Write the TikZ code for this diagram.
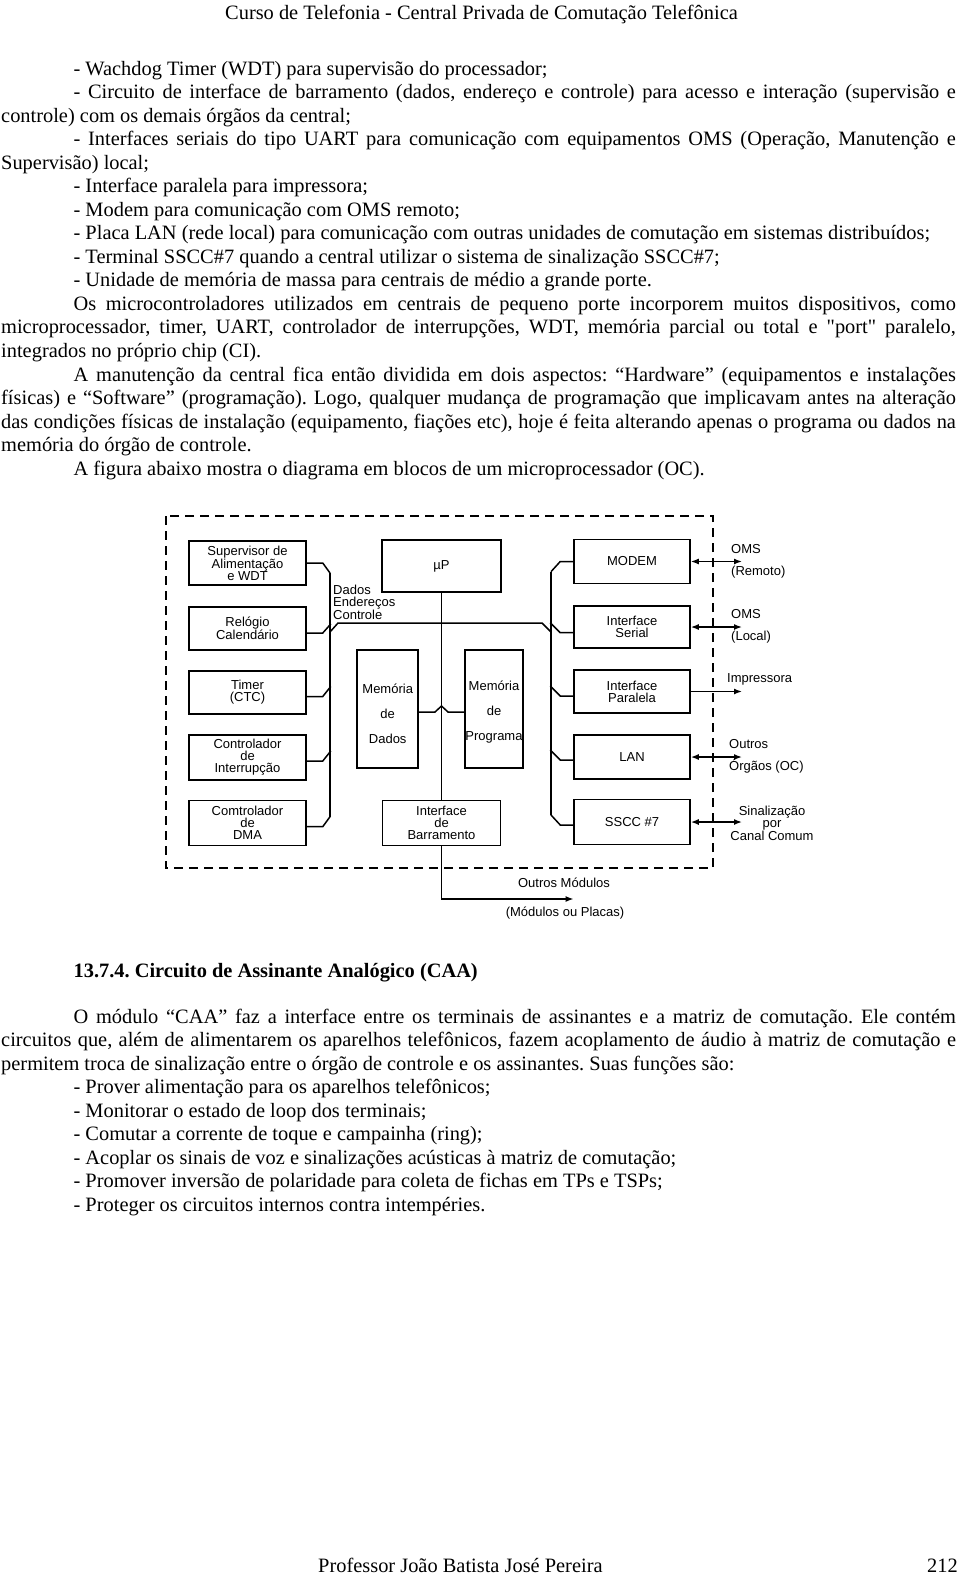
\documentclass[tikz,border=0pt]{standalone}
\usepackage{fontspec}
\setmainfont{Liberation Serif}[Ligatures = TeXOff]
\newfontfamily\diagfont{Liberation Sans}
\usetikzlibrary{arrows.meta}
\usetikzlibrary{calc}
\usetikzlibrary{positioning}
\frenchspacing
\newcommand{\bodyfont}{\fontsize{20.4}{23.5}\selectfont}
\newcommand{\boxfont}{\diagfont\fontsize{13}{12}\selectfont}
\newcommand{\fullline}[2]{\makebox[#1][s]{#2}}
\tikzset{txt/.style = {anchor = base west, inner sep = 0, font = \bodyfont}}
\tikzset{blk/.style = {draw, line width = 1.5, inner sep = 0, align = center, font = \boxfont}}
\tikzset{bus/.style = {line width = 1.5}}
\tikzset{lbl/.style = {inner sep = 0, align = left, font = \boxfont}}
\tikzset{tip/.style = {line width = 1.5, -{Latex[length = 8pt, width = 6pt]}}}
\tikzset{dtip/.style = {line width = 1.5, {Latex[length = 8pt, width = 6pt]}-{Latex[length = 8pt, width = 6pt]}}}

\begin{document}
\begin{tikzpicture}[x = 1pt, y = -1pt]
    \useasboundingbox (0, 0) rectangle (960, 1578);

    \node [txt] (head) at (225, 19.5) {Curso de Telefonia - Central Privada de Comutação Telefônica};

    % lista de recursos
    \node [txt] (l1) at (73.4, 75.5) {- Wachdog Timer (WDT) para supervisão do processador;};
    \node [txt] (l2) at (73.4, 99) {\fullline{882.3pt}{- Circuito de interface de barramento (dados, endereço e controle) para acesso e interação (supervisão e}};
    \node [txt] (l3) at (1, 122.5) {controle) com os demais órgãos da central;};
    \node [txt] (l4) at (73.4, 146) {\fullline{882.3pt}{- Interfaces seriais do tipo UART para comunicação com equipamentos OMS (Operação, Manutenção e}};
    \node [txt] (l5) at (1, 169.5) {Supervisão) local;};
    \node [txt] (l6) at (73.4, 193) {- Interface paralela para impressora;};
    \node [txt] (l7) at (73.4, 216.5) {- Modem para comunicação com OMS remoto;};
    \node [txt] (l8) at (73.4, 240) {- Placa LAN (rede local) para comunicação com outras unidades de comutação em sistemas distribuídos;};
    \node [txt] (l9) at (73.4, 263.5) {- Terminal SSCC\#7 quando a central utilizar o sistema de sinalização SSCC\#7;};
    \node [txt] (l10) at (73.4, 287) {- Unidade de memória de massa para centrais de médio a grande porte.};
    \node [txt] (l11) at (73.4, 310.5) {\fullline{882.3pt}{Os microcontroladores utilizados em centrais de pequeno porte incorporem muitos dispositivos, como}};
    \node [txt] (l12) at (1, 334) {\fullline{954.7pt}{microprocessador, timer, UART, controlador de interrupções, WDT, memória parcial ou total e "port" paralelo,}};
    \node [txt] (l13) at (1, 357.5) {integrados no próprio chip (CI).};
    \node [txt] (l14) at (73.4, 381) {\fullline{882.3pt}{A manutenção da central fica então dividida em dois aspectos: “Hardware” (equipamentos e instalações}};
    \node [txt] (l15) at (1, 404.5) {\fullline{954.7pt}{físicas) e “Software” (programação). Logo, qualquer mudança de programação que implicavam antes na alteração}};
    \node [txt] (l16) at (1, 428) {\fullline{954.7pt}{das condições físicas de instalação (equipamento, fiações etc), hoje é feita alterando apenas o programa ou dados na}};
    \node [txt] (l17) at (1, 451.5) {memória do órgão de controle.};
    \node [txt] (l18) at (73.4, 475) {A figura abaixo mostra o diagrama em blocos de um microprocessador (OC).};

    % diagrama em blocos
    \draw [line width = 1.5, dash pattern = on 9pt off 6pt] (166, 516) rectangle (713, 868);

    \node [blk, minimum width = 117, minimum height = 44] (sup) at (247.5, 563) {Supervisor de\\Alimentação\\e WDT};
    \node [blk, minimum width = 117, minimum height = 43] (rel) at (247.5, 628.5) {Relógio\\Calendário};
    \node [blk, minimum width = 117, minimum height = 43] (tim) at (247.5, 692.5) {Timer\\(CTC)};
    \node [blk, minimum width = 117, minimum height = 45] (irq) at (247.5, 757.5) {Controlador\\de\\Interrupção};
    \node [blk, minimum width = 117, minimum height = 45] (dma) at (247.5, 823) {Comtrolador\\de\\DMA};

    \node [blk, minimum width = 119, minimum height = 52] (up) at (441.5, 566) {µP};
    \node [blk, minimum width = 61, minimum height = 118] (mdad) at (387.7, 709) {};
    \node [blk, minimum width = 58, minimum height = 118] (mprg) at (494, 709) {};
    \node [lbl, align = center] (tdad) at (387.7, 714) {Memória\\[13pt]de\\[13pt]Dados};
    \node [lbl, align = center] (tprg) at (494, 712.5) {Memória\\[13pt]de\\[13pt]Programa};
    \node [blk, minimum width = 118, minimum height = 45] (bar) at (441.5, 823) {Interface\\de\\Barramento};

    \node [blk, minimum width = 116, minimum height = 44] (modem) at (632, 561.5) {MODEM};
    \node [blk, minimum width = 116, minimum height = 42] (ser) at (632, 627) {Interface\\Serial};
    \node [blk, minimum width = 116, minimum height = 43] (par) at (632, 691.5) {Interface\\Paralela};
    \node [blk, minimum width = 116, minimum height = 44] (lan) at (632, 757) {LAN};
    \node [blk, minimum width = 116, minimum height = 45] (ss7) at (632, 822) {SSCC \#7};

    % barramentos
    \coordinate (lt) at (330, 573);
    \coordinate (lb) at (330, 816.7);
    \coordinate (rt) at (551, 571.7);
    \coordinate (rb) at (551, 815);

    \draw [bus] (lt) -- (lb);
    \draw [bus] (rt) -- (rb);
    \draw [bus] (sup.east) -- ++(16, 0) -- (lt);
    \draw [bus] ($(rel.east) + (0, 4.5)$) -- ++(16, 0) -- ++(8, -9);
    \draw [bus] ($(tim.east) + (0, 4)$) -- ++(16, 0) -- ++(8, -10);
    \draw [bus] ($(irq.east) + (0, 3.5)$) -- ++(16, 0) -- ++(8, -10);
    \draw [bus] ($(dma.east) + (0, 3.7)$) -- ++(16, 0) -- (lb);

    \draw [bus] (modem.west) -- ++(-13, 0) -- (rt);
    \draw [bus] ($(ser.west) + (0, 5.7)$) -- ++(-13, 0) -- ++(-10, -10);
    \draw [bus] ($(par.west) + (0, 4.5)$) -- ++(-13, 0) -- ++(-10, -10);
    \draw [bus] ($(lan.west) + (0, 3)$) -- ++(-13, 0) -- ++(-10, -10);
    \draw [bus] ($(ss7.west) + (0, 3)$) -- ++(-13, 0) -- (rb);

    \draw [bus] (330, 632) -- (338, 623) -- (542, 623) -- (551, 632);
    \node [lbl, anchor = west] (dec) at (333, 602) {Dados\\Endereços\\Controle};

    \draw [bus] (up.south) -- (bar.north);
    \draw [bus] (mdad.east |- 0, 712) -- (435, 712) -- (441.5, 706) -- (448, 712) -- (mprg.west |- 0, 712);

    \coordinate (out) at (573.6, 899);
    \draw [tip] (bar.south) -- (bar.south |- out) -- (out);
    \node [lbl] (outm) at (564, 883) {Outros Módulos};
    \node [lbl] (outp) at (565, 913) {(Módulos ou Placas)};

    % saidas externas
    \coordinate (e1) at (742, 561.5);
    \coordinate (e2) at (742, 627);
    \coordinate (e3) at (742, 691.5);
    \coordinate (e4) at (742, 757);
    \coordinate (e5) at (742, 822);
    \draw [dtip] (modem.east) -- (e1);
    \draw [dtip] (ser.east) -- (e2);
    \draw [tip] (par.east) -- (e3);
    \draw [dtip] (lan.east) -- (e4);
    \draw [dtip] (ss7.east) -- (e5);

    \node [lbl, anchor = west] (t1) at (731, 561.5) {OMS\\[10pt](Remoto)};
    \node [lbl, anchor = west] (t2) at (731, 626.5) {OMS\\[10pt](Local)};
    \node [lbl, anchor = west] (t3) at (727, 679) {Impressora};
    \node [lbl, anchor = west] (t4) at (729, 756.5) {Outros\\[10pt]Órgãos (OC)};
    \node [lbl, align = center] (t5) at (772, 823) {Sinalização\\por\\Canal Comum};

    % secao CAA
    \node [txt, font = \bodyfont\bfseries] (sec) at (73.4, 977) {13.7.4. Circuito de Assinante Analógico (CAA)};
    \node [txt] (p1) at (73.4, 1023) {\fullline{882.3pt}{O módulo “CAA” faz a interface entre os terminais de assinantes e a matriz de comutação. Ele contém}};
    \node [txt] (p2) at (1, 1046.5) {\fullline{954.7pt}{circuitos que, além de alimentarem os aparelhos telefônicos, fazem acoplamento de áudio à matriz de comutação e}};
    \node [txt] (p3) at (1, 1070) {permitem troca de sinalização entre o órgão de controle e os assinantes. Suas funções são:};
    \node [txt] (f1) at (73.4, 1093.5) {- Prover alimentação para os aparelhos telefônicos;};
    \node [txt] (f2) at (73.4, 1117) {- Monitorar o estado de loop dos terminais;};
    \node [txt] (f3) at (73.4, 1140.5) {- Comutar a corrente de toque e campainha (ring);};
    \node [txt] (f4) at (73.4, 1164) {- Acoplar os sinais de voz e sinalizações acústicas à matriz de comutação;};
    \node [txt] (f5) at (73.4, 1187.5) {- Promover inversão de polaridade para coleta de fichas em TPs e TSPs;};
    \node [txt] (f6) at (73.4, 1211) {- Proteger os circuitos internos contra intempéries.};

    \node [txt] (foot) at (318, 1572) {Professor João Batista José Pereira};
    \node [txt] (page) at (927, 1572) {212};
\end{tikzpicture}
\end{document}
